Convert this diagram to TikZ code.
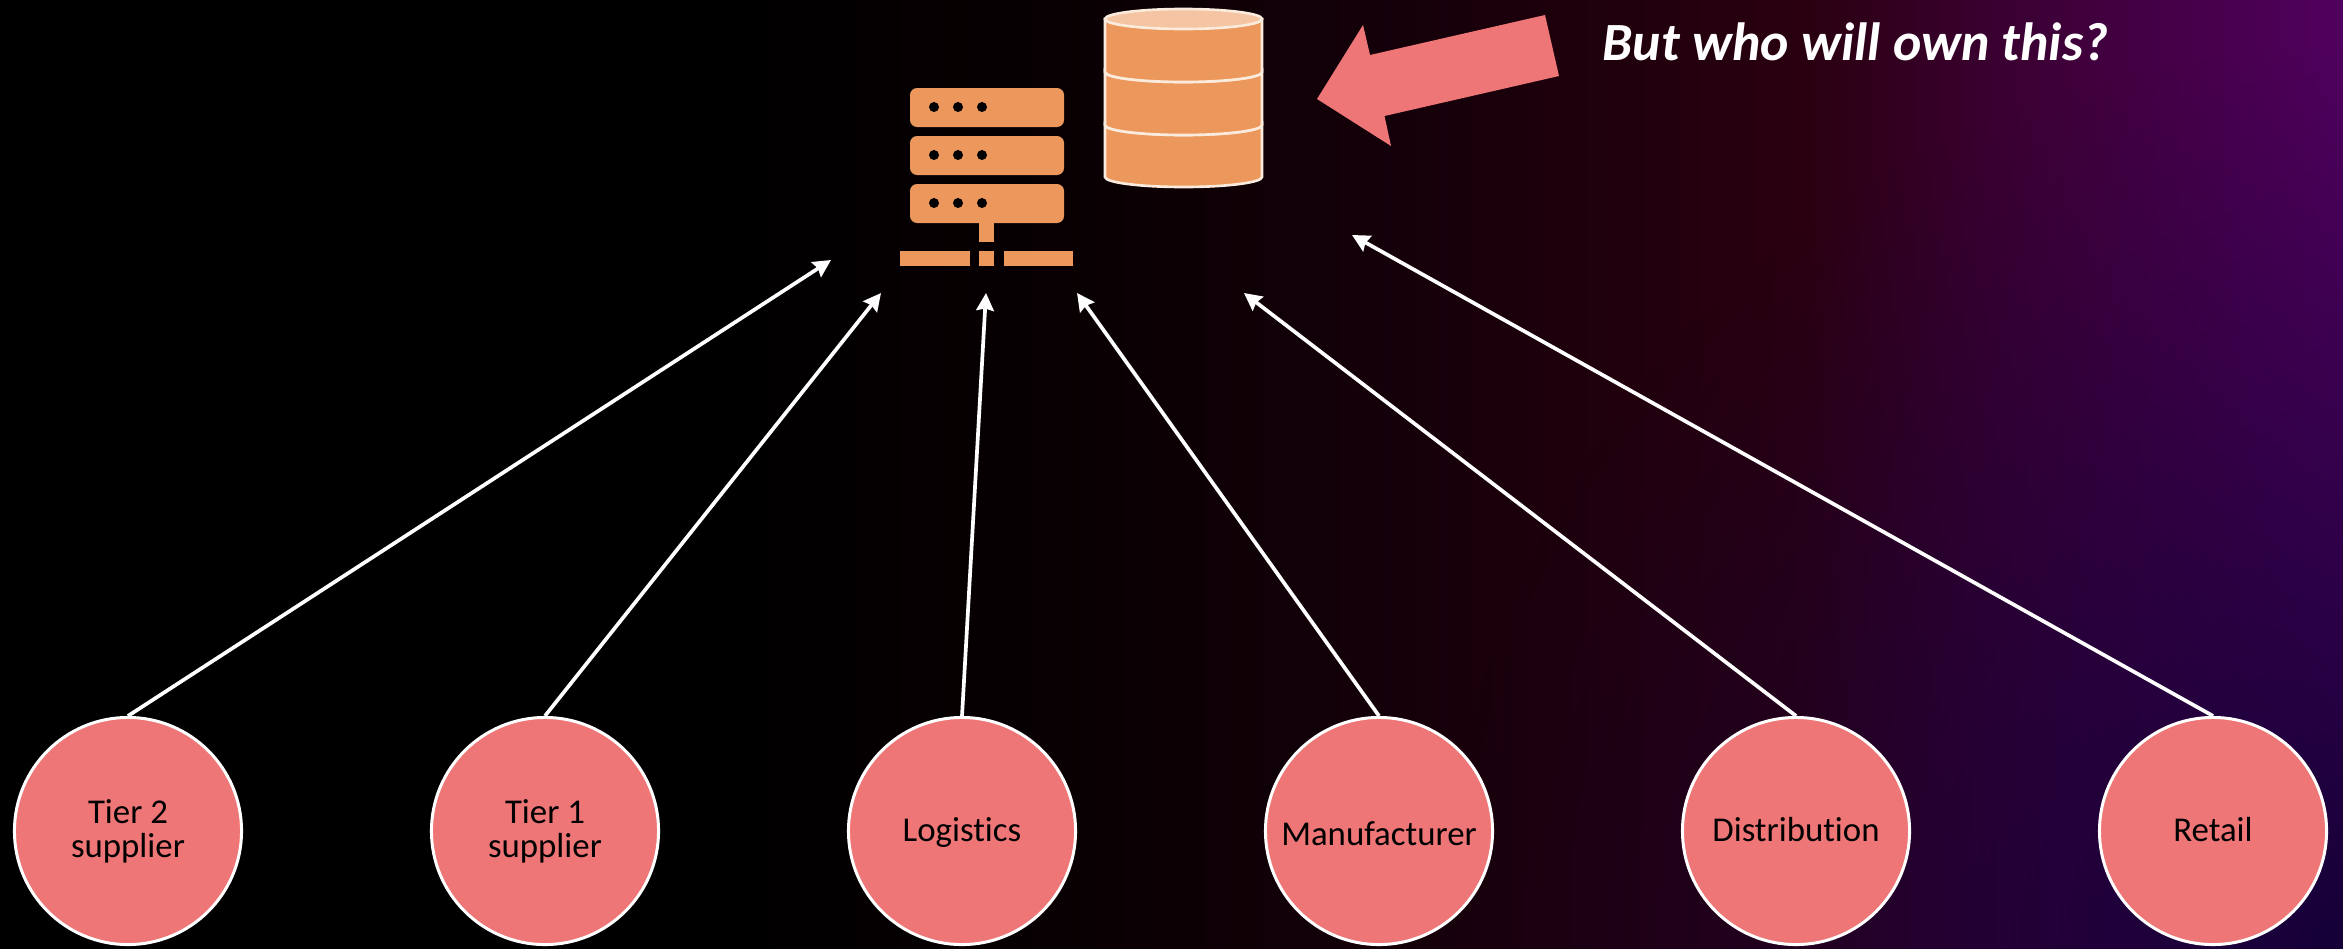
\documentclass[tikz,border=0pt]{standalone}
\usepackage{fontspec}
\setmainfont{Carlito}[Ligatures=NoCommon]
\usetikzlibrary{arrows.meta,fadings}
\definecolor{coral}{HTML}{EF7676}
\definecolor{sand}{HTML}{EC985C}
\definecolor{sandtop}{HTML}{F5C4A3}
\definecolor{bgblue}{HTML}{150038}
\definecolor{drumline}{HTML}{FBEBDD}
\definecolor{bgone}{HTML}{080002}
\definecolor{bgtwo}{HTML}{15000A}
\definecolor{bgthree}{HTML}{2A0010}
\definecolor{bgfour}{HTML}{3A0030}
\definecolor{bgfive}{HTML}{50005E}
\pgfdeclarehorizontalshading{backdrop}{100bp}{color(0bp)=(black); color(40bp)=(black); color(47.5bp)=(bgone); color(55bp)=(bgtwo); color(63.5bp)=(bgthree); color(67.5bp)=(bgfour); color(75bp)=(bgfive); color(100bp)=(bgfive)}
\tikzset{party/.style={draw=white,fill=coral,circle,line width=0.85pt,minimum size=2.27cm,inner sep=0pt,align=center,text=black,font=\fontsize{9.9}{9.7}\selectfont}}
\tikzset{solo/.style={party,text height=0.29cm,text depth=0.08cm}}
\tikzset{lowsolo/.style={party,text height=0.37cm,text depth=0.08cm}}
\tikzset{link/.style={draw,color=white,line width=1.05pt,-{Stealth[length=5pt,width=5pt,inset=0.6pt]}}}
\tikzset{drum/.style={fill=sand,draw=drumline,line width=0.75pt}}
\tikzset{rack/.style={fill=sand,rounded corners=2pt}}
\tikzset{lamp/.style={fill=black}}
\tikzfading[name=cornerfade,inner color=transparent!0,outer color=transparent!100]
\begin{document}
\begin{tikzpicture}[x=0.01cm,y=-0.01cm]
\useasboundingbox (0,0) rectangle (2343,948);
\path[shading=backdrop] (0,0) rectangle (2343,948);
\begin{scope}
\clip (0,0) rectangle (2343,948);
\fill[bgblue,path fading=cornerfade] (2343,948) circle[radius=900];
\end{scope}
\path
(128,831) node[party](1){Tier 2\\supplier}
(545,831) node[party](2){Tier 1\\supplier}
(962,831) node[solo](3){Logistics}
(1379,831) node[lowsolo](4){Manufacturer}
(1796,831) node[solo](5){Distribution}
(2213,831) node[solo](6){Retail};
\coordinate (a) at (831,260);
\coordinate (b) at (881,293);
\coordinate (c) at (986,293);
\coordinate (d) at (1077,293);
\coordinate (e) at (1244,293);
\coordinate (f) at (1352,235);
\path[link] (1.north)--(a);
\path[link] (2.north)--(b);
\path[link] (3.north)--(c);
\path[link] (4.north)--(d);
\path[link] (5.north)--(e);
\path[link] (6.north)--(f);
\path[drum] (1105,125) arc[start angle=180,end angle=360,x radius=78.5,y radius=-10] -- (1262,177) arc[start angle=0,end angle=-180,x radius=78.5,y radius=-10] -- cycle;
\path[drum] (1105,72) arc[start angle=180,end angle=360,x radius=78.5,y radius=-10] -- (1262,125) arc[start angle=0,end angle=-180,x radius=78.5,y radius=-10] -- cycle;
\path[drum] (1105,19) -- (1262,19) -- (1262,72) arc[start angle=0,end angle=-180,x radius=78.5,y radius=-10] -- cycle;
\path[drum,fill=sandtop] (1183.5,19) ellipse[x radius=78.5,y radius=10];
\fill[rack] (910,88) rectangle (1064,127);
\fill[rack] (910,136) rectangle (1064,175);
\fill[rack] (910,184) rectangle (1064,223);
\foreach \row in {107,155,203} {
\foreach \col in {934,958,982} {
\fill[lamp] (\col,\row) circle[radius=5];
}
}
\fill[sand] (979,223) rectangle (994,242);
\fill[sand] (900,251) rectangle (970,266);
\fill[sand] (979,251) rectangle (994,266);
\fill[sand] (1003.5,251) rectangle (1073,266);
\fill[coral] (1317,99)--(1363,25)--(1370,55)--(1545,15)--(1559,76)--(1384.5,116)--(1391,146)--cycle;
\node[text=white,anchor=base west,inner sep=0pt,font=\fontsize{15.3}{16}\selectfont\bfseries\itshape] (question) at (1602,60) {But who will own this?};
\end{tikzpicture}
\end{document}
